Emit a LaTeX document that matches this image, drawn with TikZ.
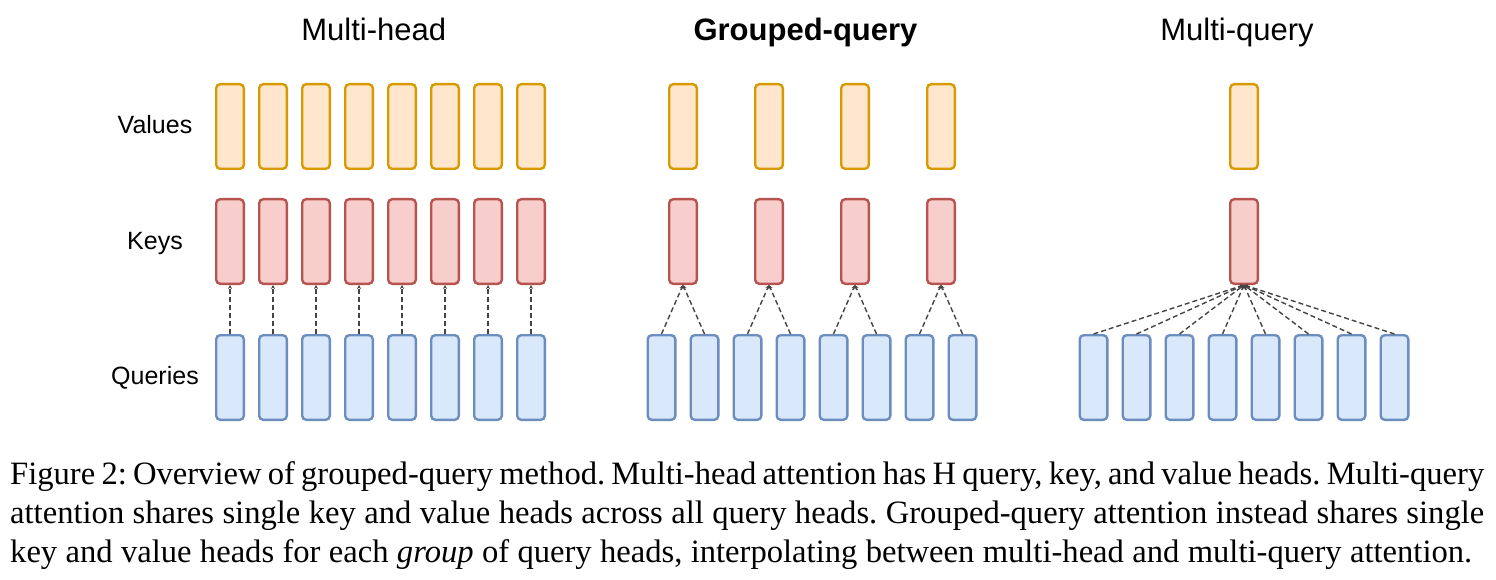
\documentclass[tikz,border=0pt]{standalone}
\usepackage{xcolor}
\usepackage{fontspec}
\setmainfont{Liberation Serif}
\setsansfont{Liberation Sans}
\usepackage{tikz}
\usetikzlibrary{arrows.meta}
\definecolor{valfill}{HTML}{FFE6CC}
\definecolor{valdraw}{HTML}{D79B00}
\definecolor{keyfill}{HTML}{F8CECC}
\definecolor{keydraw}{HTML}{B85450}
\definecolor{qryfill}{HTML}{DAE8FC}
\definecolor{qrydraw}{HTML}{6C8EBF}
\definecolor{linkgray}{HTML}{444444}

\begin{document}
\begin{tikzpicture}[x=1pt, y=-1pt, every node/.style={inner sep=0pt},%
        head/.style={draw, line width=2.4pt, rounded corners=4pt, minimum width=27.6pt, minimum height=84.6pt},
        value/.style={head, draw=valdraw, fill=valfill}, key/.style={head, draw=keydraw, fill=keyfill}, query/.style={head, draw=qrydraw, fill=qryfill},
        link/.style={draw=linkgray, line width=1.4pt, dash pattern=on 5pt off 3pt, -{Stealth[length=4pt,width=4pt]}},
        title/.style={anchor=base, font=\sffamily\fontsize{31}{36}\selectfont},
        rowlabel/.style={anchor=base, font=\sffamily\fontsize{25}{30}\selectfont}]
        \useasboundingbox (0,0) rectangle (1496,580);
        % titles and row labels
        \node[title] (mhtitle) at (373.7,41) {Multi-head};
        \node[title] (gqtitle) at (805.5,41) {\bfseries Grouped-query};
        \node[title] (mqtitle) at (1237,41) {Multi-query};
        \node[rowlabel] (vlabel) at (155,134) {Values};
        \node[rowlabel] (klabel) at (155,249) {Keys};
        \node[rowlabel] (qlabel) at (155,384) {Queries};
        % multi-head
        \foreach \i in {1,...,8} {
                \node[value] (mv\i) at ({187+43*\i},126.5) {};
                \node[key] (mk\i) at ({187+43*\i},241.5) {};
                \node[query] (mq\i) at ({187+43*\i},377.5) {};
                \draw[link] (mq\i.north) -- (mk\i.south);
        }
        % grouped-query
        \foreach \j in {1,...,4} {
                \node[value] (gv\j) at ({597+86*\j},126.5) {};
                \node[key] (gk\j) at ({597+86*\j},241.5) {};
        }
        \foreach \i in {1,...,8} {
                \pgfmathtruncatemacro\g{(\i+1)/2}
                \node[query] (gq\i) at ({618.5+43*\i},377.5) {};
                \draw[link] (gq\i.north) -- (gk\g.south);
        }
        % multi-query
        \node[value] (qv) at (1244,126.5) {};
        \node[key] (qk) at (1244,241.5) {};
        \foreach \i in {1,...,8} {
                \node[query] (qq\i) at ({1050.5+43*\i},377.5) {};
                \draw[link] (qq\i.north) -- (qk.south);
        }
        % caption, one box per printed line
        \node[anchor=north west, text width=1474pt, align=justify, font=\fontsize{32.6}{38.9}\selectfont\frenchspacing] (caption) at (10,456.8)
                {\hbox to 1474pt{\strut Figure 2: Overview of grouped-query method. Multi-head attention has H query, key, and value heads. Multi-query}
                \hbox to 1474pt{attention shares single key and value heads across all query heads. Grouped-query attention instead shares single}
                \hbox to 1462pt{key and value heads for each \textit{group} of query heads, interpolating between multi-head and multi-query attention.}};
\end{tikzpicture}
\end{document}
